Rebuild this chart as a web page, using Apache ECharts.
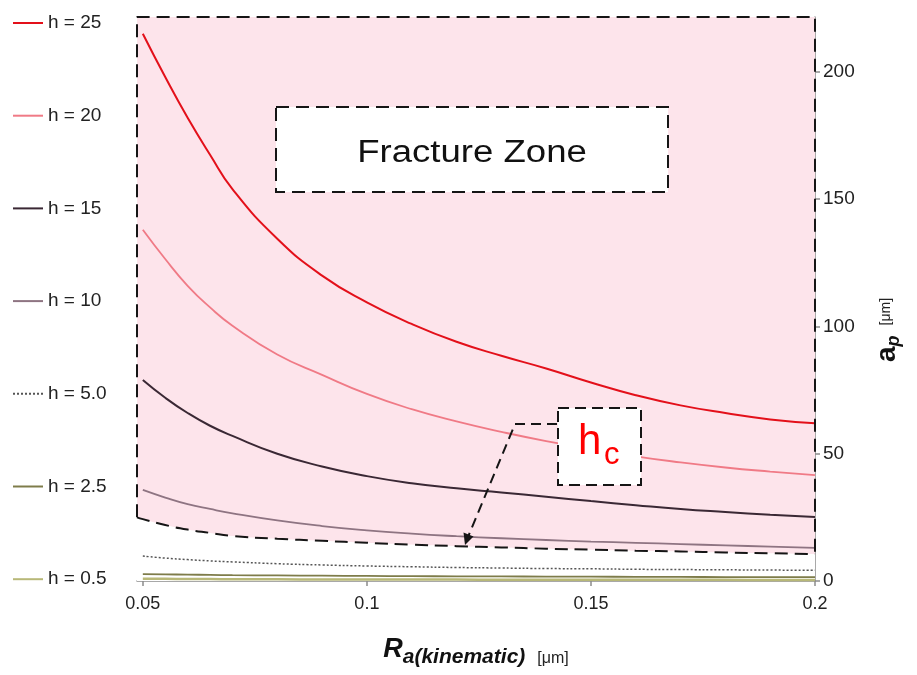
<!DOCTYPE html>
<html>
<head>
<meta charset="utf-8">
<script src="https://cdn.jsdelivr.net/npm/echarts@6/dist/echarts.min.js"></script>
<style>html,body{margin:0;padding:0;background:#fff;}#c{width:917px;height:675px;}</style>
</head>
<body>
<div id="c"></div>
<script>
// ---- data ----
const xs = [0.05, 0.055, 0.06, 0.065, 0.07, 0.08, 0.09, 0.1, 0.11, 0.12, 0.13, 0.14, 0.15, 0.16, 0.17, 0.18, 0.19, 0.2];
const h25 = [215, 198, 182, 167.5, 154, 134.5, 120, 109.5, 101, 94, 88.5, 83.5, 78, 73, 69, 66, 63.5, 62];
const h20 = [138, 126.5, 116, 107.5, 100.3, 89, 81, 73.5, 67.5, 62.7, 58.6, 55, 52, 49, 46.6, 44.6, 43, 41.6];
const h15 = [79, 72, 66, 61, 57, 50, 45, 41.2, 38.4, 36.4, 34.8, 33.1, 31.4, 29.8, 28.3, 27.1, 26, 25.1];
const h10 = [35.8, 32.8, 30.2, 28.3, 26.6, 23.8, 21.6, 19.9, 18.6, 17.6, 16.8, 16.1, 15.5, 15, 14.5, 14, 13.5, 13];
const h5 = [9.8, 9.0, 8.4, 7.9, 7.5, 6.8, 6.3, 5.9, 5.6, 5.3, 5.1, 4.9, 4.8, 4.6, 4.5, 4.4, 4.3, 4.2];
const h2_5 = [2.7, 2.6, 2.5, 2.4, 2.3, 2.2, 2.1, 2.0, 1.9, 1.85, 1.8, 1.75, 1.7, 1.65, 1.6, 1.55, 1.5, 1.5];
const h0_5 = [0.9, 0.85, 0.8, 0.75, 0.7, 0.65, 0.6, 0.6, 0.55, 0.55, 0.5, 0.5, 0.5, 0.45, 0.45, 0.45, 0.4, 0.4];
const hcX = [0.0487, 0.05, 0.055, 0.06, 0.065, 0.07, 0.08, 0.09, 0.1, 0.11, 0.12, 0.13, 0.14, 0.15, 0.16, 0.17, 0.18, 0.19, 0.2];
const hc = [25.0, 24.3, 22.0, 20.2, 18.9, 17.7, 16.6, 15.8, 15.0, 14.3, 13.7, 13.2, 12.7, 12.3, 11.9, 11.6, 11.2, 10.9, 10.6];
const xTicks = [0.05, 0.1, 0.15, 0.2];
const yTicks = [0, 50, 100, 150, 200];
const xMin = 0.0487, xMax = 0.2, yMin = 0, yMax = 221.6;
const names = ['h = 25', 'h = 20', 'h = 15', 'h = 10', 'h = 5.0', 'h = 2.5', 'h = 0.5'];

const pair = (xa, ya) => xa.map((x, i) => [x, ya[i]]);
const FONT = 'Liberation Sans, Arial, sans-serif';

const curveDefs = [
  {name: names[0], d: h25, color: '#e3101a', width: 2, type: 'solid'},
  {name: names[1], d: h20, color: '#f07a86', width: 1.8, type: 'solid'},
  {name: names[2], d: h15, color: '#3a2834', width: 2, type: 'solid'},
  {name: names[3], d: h10, color: '#8e7482', width: 1.8, type: 'solid'},
  {name: names[4], d: h5, color: '#555555', width: 1.5, type: [2, 2]},
  {name: names[5], d: h2_5, color: '#7e7c4a', width: 1.8, type: 'solid'},
  {name: names[6], d: h0_5, color: '#b8b878', width: 2.5, type: 'solid'}
];

const series = [
  { // pink fracture zone
    type: 'line', data: [[xMin, yMax], [xMax, yMax]], symbol: 'none', silent: true,
    lineStyle: {width: 0}, areaStyle: {color: '#fde4eb', opacity: 1}, z: 1
  },
  { // hc boundary (white below)
    type: 'line', data: pair(hcX, hc), symbol: 'none', smooth: true, silent: true,
    lineStyle: {width: 0}, areaStyle: {color: '#ffffff', opacity: 1}, z: 1
  }
];
curveDefs.forEach(c => series.push({
  name: c.name, type: 'line', data: pair(xs, c.d), symbol: 'none', smooth: true,
  lineStyle: {color: c.color, width: c.width, type: c.type}, itemStyle: {color: c.color}, z: 3
}));
series.push({ // hc dashed curve
  type: 'line', data: pair(hcX, hc), symbol: 'none', smooth: true, silent: true, clip: false,
  lineStyle: {color: '#151515', width: 2, type: [13, 7]}, z: 4
});
series.push({ // zone dashed border
  type: 'line', data: [[xMin, hc[0]], [xMin, yMax], [xMax, yMax], [xMax, hc[hc.length - 1]]],
  symbol: 'none', silent: true, clip: false,
  lineStyle: {color: '#151515', width: 2, type: [13, 7]}, z: 4
});

const chart = echarts.init(document.getElementById('c'), null, {renderer: 'canvas'});
chart.setOption({
  animation: false,
  backgroundColor: '#ffffff',
  textStyle: {fontFamily: FONT},
  grid: {left: 137, right: 102, top: 17, bottom: 94, containLabel: false},
  legend: {
    data: names, orient: 'vertical', left: 7, top: 7,
    itemWidth: 30, itemHeight: 22, itemGap: 70.7,
    itemStyle: {opacity: 0, color: 'transparent', borderWidth: 0},
    textStyle: {fontSize: 19, color: '#222', fontFamily: FONT, lineHeight: 22},
    selectedMode: false
  },
  xAxis: {
    type: 'value', min: xMin, max: xMax,
    axisLine: {show: true, lineStyle: {color: '#8c8c8c', width: 1.5}},
    axisTick: {show: true, length: 5, customValues: xTicks, lineStyle: {color: '#8c8c8c', width: 1.5}},
    axisLabel: {customValues: xTicks, fontSize: 18, color: '#222', margin: 14, fontFamily: FONT,
      formatter: v => String(v)},
    splitLine: {show: false},
    name: '{R|R}{s|a(kinematic)}{u|[μm]}',
    nameLocation: 'middle', nameGap: 55,
    nameTextStyle: {
      rich: {
        R: {fontSize: 27, fontWeight: 'bold', fontStyle: 'italic', color: '#111', fontFamily: FONT, verticalAlign: 'top', lineHeight: 30},
        s: {fontSize: 21, fontWeight: 'bold', fontStyle: 'italic', color: '#111', fontFamily: FONT, verticalAlign: 'top', lineHeight: 22, padding: [11, 0, 0, 0]},
        u: {fontSize: 16, color: '#222', fontFamily: FONT, verticalAlign: 'top', lineHeight: 22, padding: [15, 0, 0, 12]}
      }
    }
  },
  yAxis: {
    type: 'value', position: 'right', min: yMin, max: yMax,
    axisLine: {show: true, lineStyle: {color: '#8c8c8c', width: 1.5}},
    axisTick: {show: true, length: 5, customValues: yTicks, lineStyle: {color: '#8c8c8c', width: 1.5}},
    axisLabel: {customValues: yTicks, fontSize: 19, color: '#222', margin: 8, fontFamily: FONT},
    splitLine: {show: false},
    name: '{a|a}{p|p}{u|[μm]}',
    nameLocation: 'middle', nameRotate: 90, nameGap: 58,
    nameTextStyle: {
      padding: [0, 62, 0, 0],
      rich: {
        a: {fontSize: 28, fontWeight: 'bold', color: '#111', fontFamily: FONT, verticalAlign: 'top', lineHeight: 30},
        p: {fontSize: 18, fontWeight: 'bold', fontStyle: 'italic', color: '#111', fontFamily: FONT, verticalAlign: 'top', lineHeight: 20, padding: [12, 0, 0, 0]},
        u: {fontSize: 14, color: '#222', fontFamily: FONT, verticalAlign: 'top', lineHeight: 18, padding: [6, 0, 0, 10]}
      }
    }
  },
  series: series,
  graphic: [
    {type: 'rect', z: 10, shape: {x: 276, y: 107, width: 392, height: 85},
      style: {fill: '#ffffff', stroke: '#151515', lineWidth: 2, lineDash: [13, 7]}},
    {type: 'text', z: 11, x: 472, y: 153, scaleX: 1.18,
      style: {text: 'Fracture Zone', fontSize: 31, fontFamily: FONT, fill: '#111', align: 'center', verticalAlign: 'middle'}},
    {type: 'rect', z: 10, shape: {x: 558, y: 408, width: 83, height: 77},
      style: {fill: '#ffffff', stroke: '#151515', lineWidth: 2, lineDash: [11, 6]}},
    {type: 'text', z: 11, x: 578, y: 442,
      style: {text: 'h', fontSize: 42, fontFamily: FONT, fill: '#ff0000', align: 'left', verticalAlign: 'middle'}},
    {type: 'text', z: 11, x: 604, y: 455,
      style: {text: 'c', fontSize: 31, fontFamily: FONT, fill: '#ff0000', align: 'left', verticalAlign: 'middle'}},
    {type: 'polyline', z: 10, shape: {points: [[557, 424], [515, 424], [468, 537]]},
      style: {fill: null, stroke: '#151515', lineWidth: 2, lineDash: [10, 6]}},
    {type: 'polygon', z: 10, shape: {points: [[465, 545], [473.5, 536.5], [463.5, 532.5]]},
      style: {fill: '#151515'}}
  ]
});
</script>
</body>
</html>
